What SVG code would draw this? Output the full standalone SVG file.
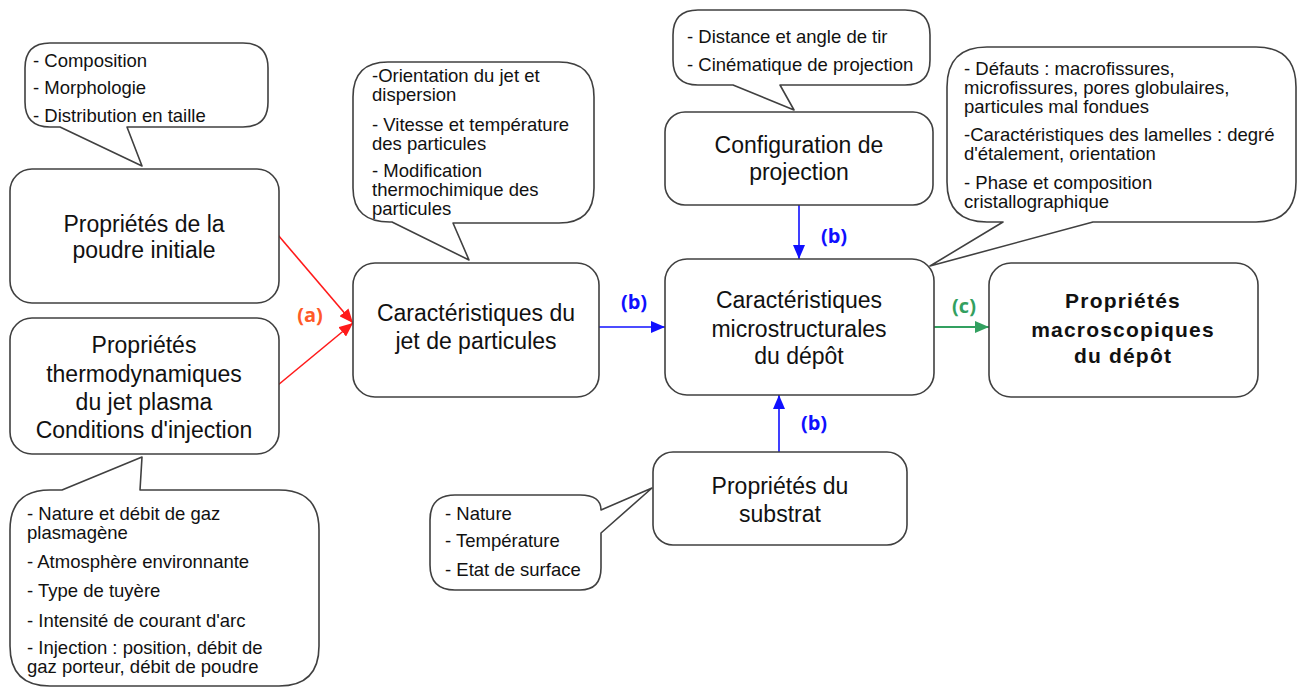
<svg xmlns="http://www.w3.org/2000/svg" width="1298" height="688" viewBox="0 0 1298 688">
<style>
.bg{fill:#ffffff}
.node{fill:#ffffff;stroke:#404040;stroke-width:1.6}
.call{fill:#ffffff;stroke:#404040;stroke-width:1.6;stroke-linejoin:round}
.nt{font-family:"Liberation Sans",Arial,sans-serif;font-size:23px;fill:#111111;text-anchor:middle}
.bt{font-family:"Liberation Sans",Arial,sans-serif;font-size:21px;font-weight:bold;letter-spacing:1.2px;fill:#111111;text-anchor:middle}
.ct{font-family:"Liberation Sans",Arial,sans-serif;font-size:18.5px;fill:#111111}
.lbl{font-family:"Open Sans","Liberation Sans",sans-serif;font-size:20px;font-weight:bold;text-anchor:middle}
.red{stroke:#ff1a1a;stroke-width:1.6;fill:none}
.blue{stroke:#1010ff;stroke-width:1.6;fill:none}
.green{stroke:#33a060;stroke-width:1.8;fill:none}
</style>
<defs>
<marker id="ar" markerUnits="userSpaceOnUse" markerWidth="14" markerHeight="12" refX="14" refY="6" orient="auto"><path d="M0,0 L14,6 L0,12 z" fill="#ff1a1a"/></marker>
<marker id="ab" markerUnits="userSpaceOnUse" markerWidth="14" markerHeight="12" refX="14" refY="6" orient="auto"><path d="M0,0 L14,6 L0,12 z" fill="#1010ff"/></marker>
<marker id="ag" markerUnits="userSpaceOnUse" markerWidth="14" markerHeight="12" refX="14" refY="6" orient="auto"><path d="M0,0 L14,6 L0,12 z" fill="#33a060"/></marker>
</defs>
<rect class="bg" x="0" y="0" width="1298" height="688"/>

<g id="connectors">
<path class="red" d="M278,235 L353,323" marker-end="url(#ar)"/>
<path class="red" d="M278,385 L353,323" marker-end="url(#ar)"/>
<path class="blue" d="M599,327 L665,327" marker-end="url(#ab)"/>
<path class="blue" d="M799,205 L799,259" marker-end="url(#ab)"/>
<path class="blue" d="M779,452 L779,395" marker-end="url(#ab)"/>
<path class="green" d="M934,327 L989,327" marker-end="url(#ag)"/>
<text class="lbl" x="310" y="322" fill="#ff5a28">(a)</text>
<text class="lbl" x="634" y="309" fill="#1010ff">(b)</text>
<text class="lbl" x="834" y="243" fill="#1010ff">(b)</text>
<text class="lbl" x="814" y="430" fill="#1010ff">(b)</text>
<text class="lbl" x="964" y="313" fill="#33a060">(c)</text>
</g>

<g id="callout-poudre">
<path class="call" d="M50,43 H243 Q268,43 268,68 V102 Q268,127 243,127 H127 L142,166 L60,127 H50 Q25,127 25,102 V68 Q25,43 50,43 Z"/>
<text class="ct" x="33" y="67">- Composition</text>
<text class="ct" x="33" y="94">- Morphologie</text>
<text class="ct" x="33" y="122">- Distribution en taille</text>
</g>

<g id="callout-plasma">
<path class="call" d="M50,490 H62 L142,457 L140,490 H279 Q319,490 319,530 V646 Q319,686 279,686 H50 Q10,686 10,646 V530 Q10,490 50,490 Z"/>
<text class="ct" x="27" y="520">- Nature et débit de gaz</text>
<text class="ct" x="27" y="539">plasmagène</text>
<text class="ct" x="27" y="568">- Atmosphère environnante</text>
<text class="ct" x="27" y="597">- Type de tuyère</text>
<text class="ct" x="27" y="627">- Intensité de courant d'arc</text>
<text class="ct" x="27" y="654">- Injection : position, débit de</text>
<text class="ct" x="27" y="673">gaz porteur, débit de poudre</text>
</g>

<g id="callout-jet">
<path class="call" d="M388,62 H559 Q594,62 594,97 V188 Q594,223 559,223 H453 L469,260 L392,222 Q353,223 353,188 V97 Q353,62 388,62 Z"/>
<text class="ct" x="372" y="82">-Orientation du jet et</text>
<text class="ct" x="372" y="101">dispersion</text>
<text class="ct" x="372" y="131">- Vitesse et température</text>
<text class="ct" x="372" y="150">des particules</text>
<text class="ct" x="372" y="177">- Modification</text>
<text class="ct" x="372" y="196">thermochimique des</text>
<text class="ct" x="372" y="215">particules</text>
</g>

<g id="callout-config">
<path class="call" d="M698,10 H905 Q930,10 930,35 V60 Q930,85 905,85 H780 L794,110 L733,85 H698 Q673,85 673,60 V35 Q673,10 698,10 Z"/>
<text class="ct" x="687" y="43">- Distance et angle de tir</text>
<text class="ct" x="687" y="71">- Cinématique de projection</text>
</g>

<g id="callout-micro">
<path class="call" d="M987,47 H1256 Q1296,47 1296,87 V182 Q1296,222 1256,222 H1093 L930,266 L1003,222 H987 Q947,222 947,182 V87 Q947,47 987,47 Z"/>
<text class="ct" x="964" y="75">- Défauts : macrofissures,</text>
<text class="ct" x="964" y="94">microfissures, pores globulaires,</text>
<text class="ct" x="964" y="113">particules mal fondues</text>
<text class="ct" x="964" y="141">-Caractéristiques des lamelles : degré</text>
<text class="ct" x="964" y="160">d'étalement, orientation</text>
<text class="ct" x="964" y="189">- Phase et composition</text>
<text class="ct" x="964" y="208">cristallographique</text>
</g>

<g id="callout-substrat">
<path class="call" d="M455,495 H580 Q601,495 601,510 L652,488 L601,533 V568 Q601,590 580,590 H455 Q430,590 430,565 V520 Q430,495 455,495 Z"/>
<text class="ct" x="445" y="520">- Nature</text>
<text class="ct" x="445" y="547">- Température</text>
<text class="ct" x="445" y="576">- Etat de surface</text>
</g>

<g id="node-poudre">
<rect class="node" x="10" y="169" width="269" height="134" rx="22"/>
<text class="nt" x="144" y="232">Propriétés de la</text>
<text class="nt" x="144" y="258">poudre initiale</text>
</g>

<g id="node-plasma">
<rect class="node" x="10" y="318" width="269" height="136" rx="22"/>
<text class="nt" x="144" y="353">Propriétés</text>
<text class="nt" x="144" y="382">thermodynamiques</text>
<text class="nt" x="144" y="410">du jet plasma</text>
<text class="nt" x="144" y="438">Conditions d'injection</text>
</g>

<g id="node-jet">
<rect class="node" x="353" y="263" width="246" height="134" rx="22"/>
<text class="nt" x="476" y="321">Caractéristiques du</text>
<text class="nt" x="476" y="349">jet de particules</text>
</g>

<g id="node-config">
<rect class="node" x="665" y="112" width="268" height="93" rx="20"/>
<text class="nt" x="799" y="153">Configuration de</text>
<text class="nt" x="799" y="180">projection</text>
</g>

<g id="node-micro">
<rect class="node" x="665" y="259" width="269" height="136" rx="22"/>
<text class="nt" x="799" y="308">Caractéristiques</text>
<text class="nt" x="799" y="337">microstructurales</text>
<text class="nt" x="799" y="364">du dépôt</text>
</g>

<g id="node-macro">
<rect class="node" x="989" y="263" width="269" height="134" rx="22"/>
<text class="bt" x="1123" y="308">Propriétés</text>
<text class="bt" x="1123" y="337">macroscopiques</text>
<text class="bt" x="1123" y="363">du dépôt</text>
</g>

<g id="node-substrat">
<rect class="node" x="653" y="452" width="254" height="93" rx="20"/>
<text class="nt" x="780" y="494">Propriétés du</text>
<text class="nt" x="780" y="522">substrat</text>
</g>
</svg>
